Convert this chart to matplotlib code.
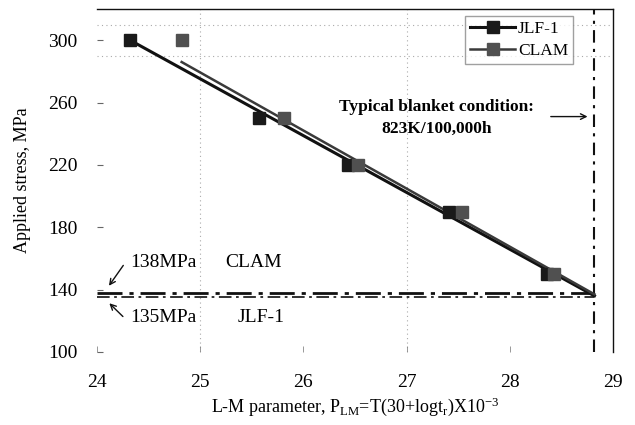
import matplotlib
matplotlib.use("Agg")
import matplotlib.pyplot as plt
import numpy as np

plt.rcParams['font.family'] = ['Liberation Serif', 'DejaVu Serif']
plt.rcParams['mathtext.fontset'] = 'custom'
plt.rcParams['mathtext.rm'] = 'Liberation Serif'
plt.rcParams['mathtext.it'] = 'Liberation Serif:italic'

# Data
jlf_x = [24.32, 25.57, 26.43, 27.41, 28.36]
jlf_y = [300, 250, 220, 190, 150]
clam_x = [24.82, 25.81, 26.53, 27.54, 28.43]
clam_y = [300, 250, 220, 190, 150]

jlf_fit_x = [24.32, 28.82]
jlf_fit_y = [300, 136]
clam_fit_x = [24.82, 28.82]
clam_fit_y = [286, 137]

limit_clam = 138
limit_jlf = 135
blanket_x = 28.82

x_ticks = [24, 25, 26, 27, 28, 29]
y_ticks = [100, 140, 180, 220, 260, 300]

fig = plt.figure(figsize=(6.35, 4.25), dpi=100)
ax = fig.add_axes([0.1528, 0.1718, 0.8126, 0.807])
ax.set_xlim(24, 29)
ax.set_ylim(100, 320)

# grid lines (dotted)
for gy in [290, 310]:
    ax.axhline(gy, color='#aaaaaa', lw=0.8, ls=(0, (1, 3)), zorder=0)
for gx in [25, 27]:
    ax.axvline(gx, color='#aaaaaa', lw=0.8, ls=(0, (1, 3)), zorder=0)

# limit lines
ax.plot([24, blanket_x], [limit_clam, limit_clam], color='#111111', lw=2.0,
        ls=(0, (9, 2.5, 1.5, 2.5)), zorder=2)
ax.plot([24, blanket_x], [limit_jlf, limit_jlf], color='#222222', lw=1.3,
        ls=(0, (7, 2.5, 1.5, 2.5)), zorder=2)
ax.axvline(blanket_x, color='#111111', lw=1.5, ls=(0, (6, 3, 1.5, 3)), zorder=2)

# fit lines
ax.plot(jlf_fit_x, jlf_fit_y, color='#111111', lw=2.2, zorder=3)
ax.plot(clam_fit_x, clam_fit_y, color='#3a3a3a', lw=1.8, zorder=3)

# markers
ax.plot(jlf_x, jlf_y, ls='none', marker='s', ms=9, mfc='#1a1a1a', mec='#1a1a1a', zorder=4)
ax.plot(clam_x, clam_y, ls='none', marker='s', ms=9, mfc='#505050', mec='#505050', zorder=4)

# legend
from matplotlib.lines import Line2D
h1 = Line2D([], [], color='#111111', lw=2.2, marker='s', ms=9, mfc='#1a1a1a', mec='#1a1a1a')
h2 = Line2D([], [], color='#3a3a3a', lw=1.8, marker='s', ms=9, mfc='#505050', mec='#505050')
leg = ax.legend([h1, h2], ['JLF-1', 'CLAM'], loc='upper left',
                bbox_to_anchor=(0.713, 0.98), borderaxespad=0, fontsize=12.5,
                frameon=True, fancybox=False, edgecolor='#888888', handlelength=2.6,
                handletextpad=0.15, borderpad=0.3, labelspacing=0.3)
leg.get_frame().set_linewidth(1.0)

# annotations
ax.text(27.29, 257.4, 'Typical blanket condition:', fontsize=12.5, fontweight='bold',
        ha='center', va='center')
ax.text(27.29, 243.4, '823K/100,000h', fontsize=12.5, fontweight='bold',
        ha='center', va='center')
ax.annotate('', xy=(28.78, 251), xytext=(28.37, 251),
            arrowprops=dict(arrowstyle='->', color='#111111', lw=1.0))

ax.text(24.32, 157.5, '138MPa', fontsize=14, ha='left', va='center')
ax.text(25.24, 157.5, 'CLAM', fontsize=14, ha='left', va='center')
ax.text(24.32, 122, '135MPa', fontsize=14, ha='left', va='center')
ax.text(25.36, 122, 'JLF-1', fontsize=14, ha='left', va='center')
ax.annotate('', xy=(24.1, 141), xytext=(24.27, 157),
            arrowprops=dict(arrowstyle='->', color='#111111', lw=1.0))
ax.annotate('', xy=(24.1, 132.5), xytext=(24.27, 121.5),
            arrowprops=dict(arrowstyle='->', color='#111111', lw=1.0))

# axes styling
ax.spines['left'].set_visible(False)
ax.spines['bottom'].set_visible(False)
ax.spines['top'].set_color('#111111')
ax.spines['right'].set_color('#111111')
ax.spines['top'].set_linewidth(1.0)
ax.spines['right'].set_linewidth(1.0)

ax.set_xticks(x_ticks)
ax.set_yticks(y_ticks)
ax.tick_params(axis='x', direction='in', length=4, width=0.6, color='#888888',
               labelsize=14, pad=16)
ax.tick_params(axis='y', direction='in', length=4, width=0.8, color='#666666',
               labelsize=14, pad=14)

ax.set_xlabel(r'L-M parameter, P$_{\mathrm{LM}}$=T(30+logt$_{\mathrm{r}}$)X10$^{-3}$',
              fontsize=13, labelpad=3)
ax.set_ylabel('Applied stress, MPa', fontsize=13, labelpad=12)

fig.savefig('out.png', dpi=100)
